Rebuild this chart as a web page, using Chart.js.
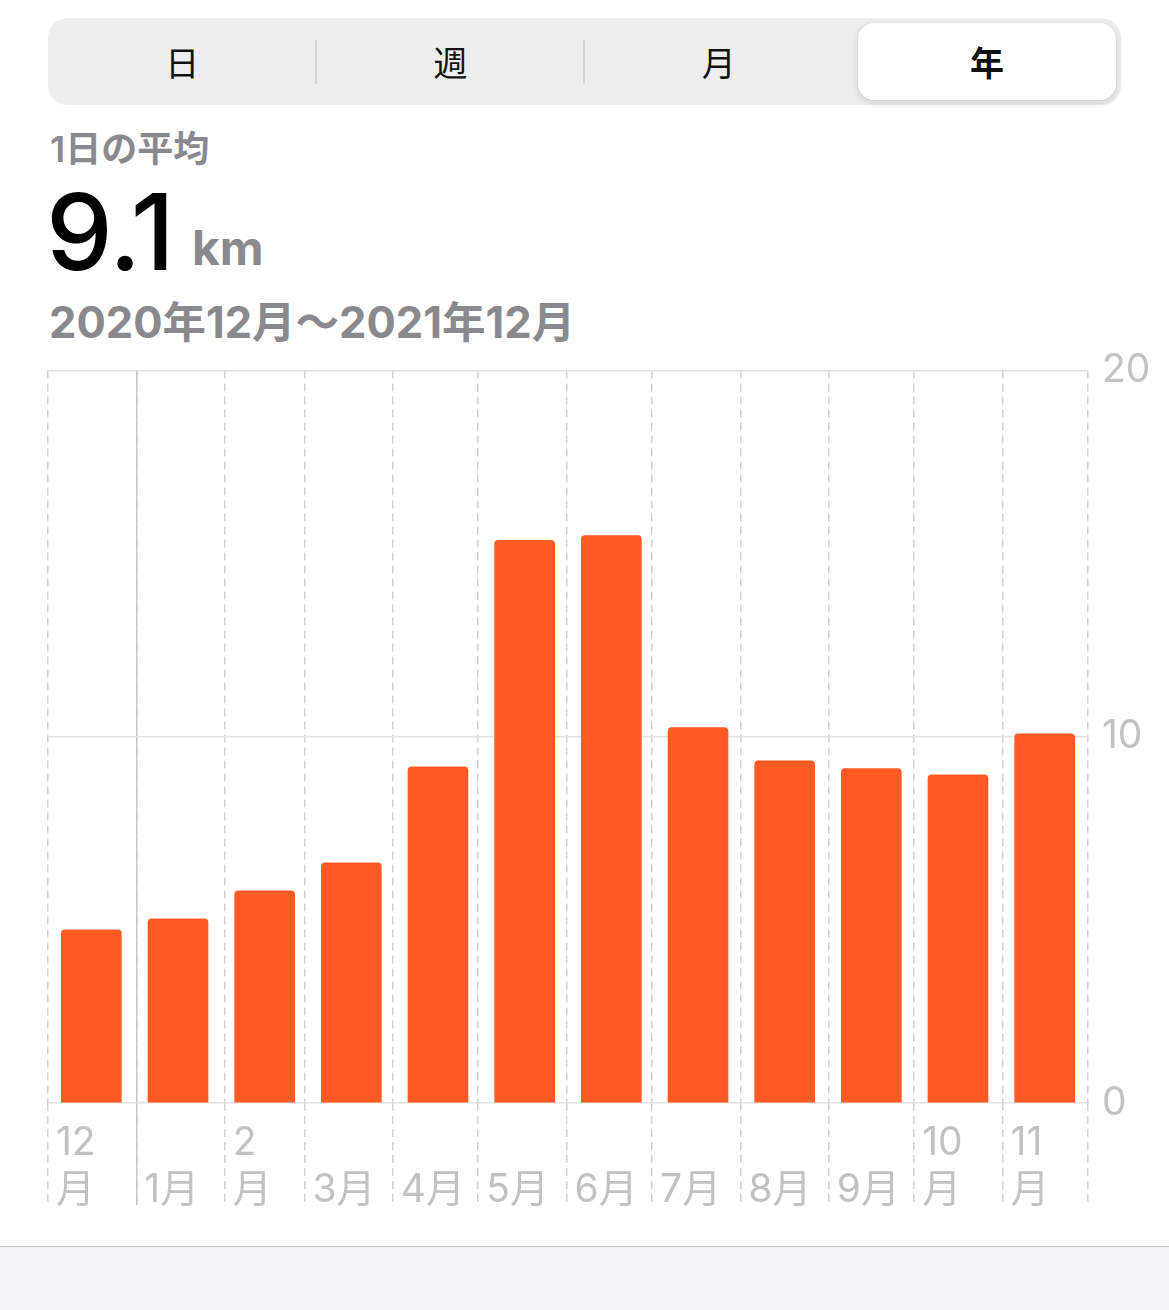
<!DOCTYPE html>
<html lang="ja">
<head>
<meta charset="utf-8">
<script src="https://cdn.jsdelivr.net/npm/chart.js@4/dist/chart.umd.min.js"></script>
<style>
  html, body { margin:0; padding:0; background:#fff; }
  body { width:1169px; height:1310px; position:relative; overflow:hidden;
         font-family: Inter, "Noto Sans CJK JP", sans-serif; }
  .seg { position:absolute; left:48px; top:18px; width:1073px; height:87px;
         background:#eeeeef; border-radius:20px; display:flex; }
  .seg .cell { flex:1; display:flex; align-items:center; justify-content:center;
               font-size:34px; color:#111; position:relative; z-index:1; }
  .seg .cell.on { font-weight:700; }
  .seg .sep { position:absolute; top:22px; width:2px; height:44px; background:#d4d4d6; }
  .seg .thumb { position:absolute; left:810px; top:5px; width:258px; height:77px;
                background:#fff; border-radius:16px;
                box-shadow:0 3px 8px rgba(0,0,0,0.12), 0 0 0 1px rgba(0,0,0,0.03); }
  .lbl { position:absolute; left:50px; top:120px; font-size:36px; font-weight:600; color:#8a8a8e; }
  .big { position:absolute; left:46px; top:167px; font-size:106px; font-weight:500; color:#000;
         letter-spacing:-1px; }
  .unit { position:absolute; left:192px; top:218px; font-size:48px; font-weight:700; color:#8a8a8e; }
  .range { position:absolute; left:49px; top:288px; font-size:43.5px; font-weight:700; color:#8a8a8e; }
  .wrap { position:absolute; left:0; top:333px; width:1169px; height:887px; }
  .foot { position:absolute; left:0; top:1246px; width:1169px; height:64px;
          background:#f2f2f7; border-top:1px solid #c6c6c8; }
</style>
</head>
<body>
<div class="seg">
  <div class="thumb"></div>
  <div class="sep" style="left:267px"></div>
  <div class="sep" style="left:535px"></div>
  <div class="cell">日</div>
  <div class="cell">週</div>
  <div class="cell">月</div>
  <div class="cell on">年</div>
</div>
<div class="lbl">1日の平均</div>
<div class="big">9.1</div>
<div class="unit">km</div>
<div class="range">2020年12月～2021年12月</div>
<div class="wrap"><canvas id="distChart"></canvas></div>
<div class="foot"></div>

<script>
// 1日の平均距離 (km) — 月ごと
const months = ['12月','1月','2月','3月','4月','5月','6月','7月','8月','9月','10月','11月'];
const dailyKm = [4.73, 5.03, 5.79, 6.56, 9.18, 15.36, 15.49, 10.25, 9.34, 9.13, 8.96, 10.08];
const monthDays = [31, 31, 28, 31, 30, 31, 30, 31, 31, 30, 31, 30];
const monthTickLabels = [
  ['12','月'], ['','1月'], ['2','月'], ['','3月'], ['','4月'], ['','5月'],
  ['','6月'], ['','7月'], ['','8月'], ['','9月'], ['10','月'], ['11','月'], ''
];
const yTicks = [0, 10, 20];

// 月の開始位置（日数の累積）
const monthStarts = [0];
monthDays.forEach(d => monthStarts.push(monthStarts[monthStarts.length - 1] + d));
const totalDays = monthStarts[monthStarts.length - 1];
const yearStart = monthStarts[1];

const FONT = 'Inter, "Noto Sans CJK JP", sans-serif';
const GRID = '#d2d2d4';
const LABEL = '#c2c2c5';

new Chart(document.getElementById('distChart'), {
  type:'bar',
  data:{
    labels: months,
    datasets:[{
      label:'1日の平均',
      data: dailyKm,
      backgroundColor:'#ff5a23',
      borderRadius:{ topLeft:4, topRight:4 },
      borderSkipped:'bottom',
      barThickness:60,
      xAxisID:'x',
      yAxisID:'y'
    }]
  },
  options:{
    responsive:true,
    maintainAspectRatio:false,
    animation:false,
    layout:{ padding:{ top:0, right:0, bottom:0, left:48 } },
    plugins:{ legend:{ display:false }, tooltip:{ enabled:false } },
    scales:{
      x:{ display:false, offset:true },
      days:{
        type:'linear',
        position:'bottom',
        weight:1,
        min:0,
        max:totalDays,
        offset:false,
        afterBuildTicks:(axis)=>{ axis.ticks = monthStarts.map(v => ({ value:v })); },
        afterFit:(axis)=>{ axis.height = 117; },
        grid:{
          offset:false,
          color:GRID,
          lineWidth:1.5,
          drawTicks:true,
          tickLength:102,
          tickColor:GRID,
          tickWidth:1.5,
          tickBorderDash:[8,5]
        },
        border:{ display:false, dash:[8,5] },
        ticks:{
          autoSkip:false,
          maxRotation:0,
          align:'start',
          labelOffset:8,
          padding:-85,
          color:LABEL,
          font:{ family:FONT, size:39, lineHeight:1.2 },
          callback:(value, i)=> monthTickLabels[i]
        }
      },
      yearLine:{
        type:'linear',
        position:'bottom',
        weight:0,
        min:0,
        max:totalDays,
        offset:false,
        afterBuildTicks:(axis)=>{ axis.ticks = [{ value:yearStart }]; },
        afterFit:(axis)=>{ axis.height = 0; },
        grid:{ offset:false, color:'#c8c8ca', lineWidth:1.5, drawTicks:true, tickLength:102, tickColor:'#c8c8ca', tickWidth:1.5 },
        border:{ display:false },
        ticks:{ display:false }
      },
      y:{
        position:'right',
        min:0,
        max:20,
        afterBuildTicks:(axis)=>{ axis.ticks = yTicks.map(v => ({ value:v })); },
        afterFit:(axis)=>{ axis.width = 81; },
        grid:{ color:'#e3e3e5', lineWidth:1.5, drawTicks:false },
        border:{ display:false },
        ticks:{
          padding:14,
          color:LABEL,
          font:{ family:FONT, size:39 }
        }
      }
    }
  }
});
</script>
</body>
</html>
